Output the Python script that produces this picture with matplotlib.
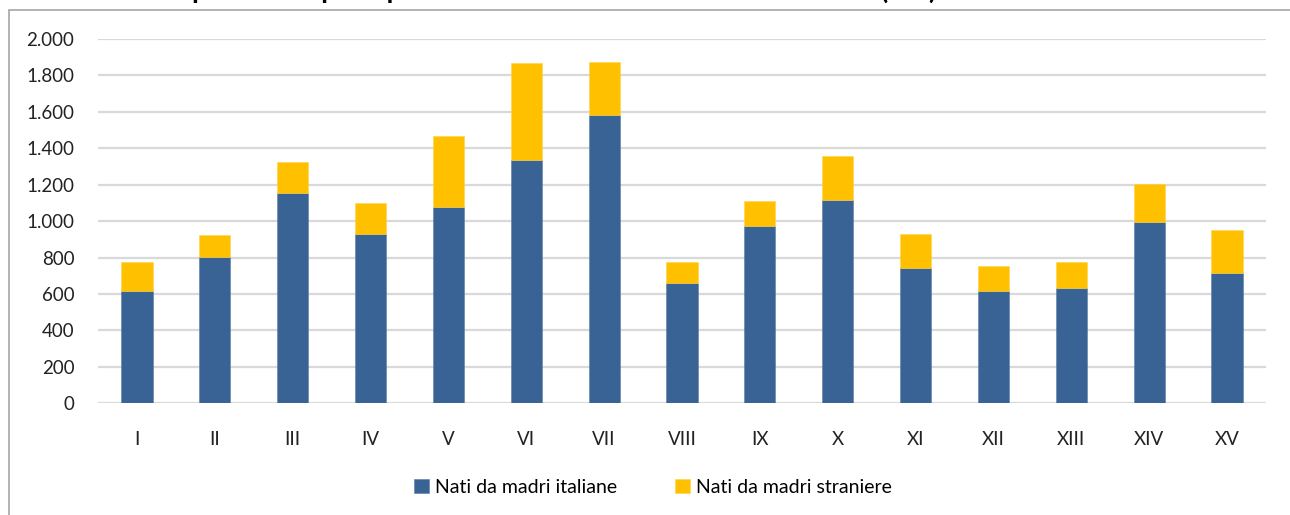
import numpy as np
from matplotlib import pyplot as plt
from matplotlib.patches import Rectangle

# municipi and births
municipi = ["I", "II", "III", "IV", "V", "VI", "VII", "VIII",
            "IX", "X", "XI", "XII", "XIII", "XIV", "XV"]
italiane = [614, 802, 1156, 928, 1079, 1337, 1584, 658,
            972, 1118, 742, 617, 632, 993, 718]
totale = [778, 924, 1326, 1101, 1468, 1868, 1874, 774,
          1111, 1357, 930, 754, 778, 1202, 952]
straniere = [t - i for t, i in zip(totale, italiane)]

legend_labels = ["Nati da madri italiane", "Nati da madri straniere"]
title = "Grafico 4 - Nati per Municipio e per cittadinanza della madre. Anno 2019 (v.a.)"

blue = "#3A6395"
yellow = "#FFC000"

plt.rcParams['font.family'] = ['Lato', 'DejaVu Sans']

fig = plt.figure(figsize=(12.9, 5.15), dpi=100)

# outer chart frame (cut off at the top/right like the reference)
fig.patches.append(Rectangle((9 / 1290, -0.05), 1.2, 1 - 10 / 515 + 0.05,
                             transform=fig.transFigure, fill=False,
                             edgecolor="#A6A6A6", lw=1.2))

# title, mostly clipped above the image edge (as in the reference)
fig.text(0.0, 1 + 1 / 515, title, fontsize=19.5, fontweight="bold",
         va="baseline", ha="left")

ax = fig.add_axes([98 / 1290, 111.7 / 515, 1168 / 1290, 364.3 / 515])
x = np.arange(len(municipi))
ax.bar(x, italiane, width=0.4, color=blue, label=legend_labels[0], zorder=3,
       edgecolor="#5A7DA8", linewidth=0.4)
ax.bar(x, straniere, width=0.4, bottom=italiane, color=yellow,
       label=legend_labels[1], zorder=3, edgecolor="#FFD24D", linewidth=0.4)

ax.set_xlim(-0.5, len(municipi) - 0.5)
ax.set_ylim(0, 2000)
ax.set_yticks(range(0, 2001, 200))
ax.set_yticklabels([f"{v:,}".replace(",", ".") for v in range(0, 2001, 200)])
ax.set_xticks(x)
ax.set_xticklabels(municipi)
ax.tick_params(axis="both", length=0, labelsize=13.5, colors="#222222")
ax.tick_params(axis="y", pad=17)
ax.tick_params(axis="x", pad=20)

ax.yaxis.grid(True, color="#D9D9D9", lw=1.6, zorder=0)
for s in ax.spines.values():
    s.set_visible(False)

ax.legend(loc="upper center", bbox_to_anchor=(0.475, -0.16), ncol=2,
          frameon=False, fontsize=14, handlelength=0.75, handleheight=0.75,
          handletextpad=0.3, columnspacing=3.0)

plt.savefig("out.png", dpi=100)
